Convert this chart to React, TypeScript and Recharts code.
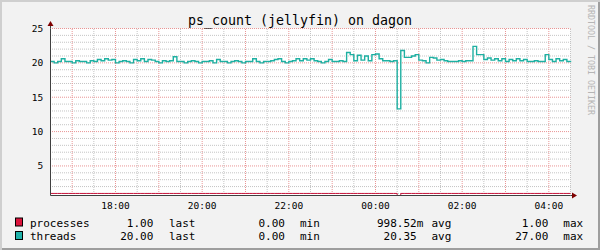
import React from "react";
import { LineChart, Line, XAxis, YAxis, CartesianGrid, ReferenceLine, ReferenceDot } from "recharts";

// 5 minute samples, first one at 16:30
const START_MIN = 16 * 60 + 30;
const STEP_MIN = 5;

const threads = [
  20.2, 20.0, 20.2, 20.6, 20.2, 20.2, 20.0, 20.3, 20.2, 20.2,
  20.0, 20.3, 20.2, 20.5, 20.3, 20.6, 20.4, 20.5, 20.0, 20.2,
  20.3, 20.2, 20.0, 20.5, 20.3, 20.6, 20.2, 20.5, 20.4, 20.2,
  20.0, 20.3, 20.2, 20.3, 20.9, 20.2, 20.2, 20.0, 20.2, 20.3,
  20.2, 20.0, 20.2, 20.2, 20.3, 20.0, 20.5, 20.2, 20.2, 20.0,
  20.2, 20.3, 20.2, 20.0, 20.2, 20.2, 20.6, 20.2, 20.0, 20.2,
  20.2, 20.3, 20.5, 20.6, 20.2, 20.0, 20.2, 20.3, 20.6, 20.3,
  20.6, 20.4, 20.6, 20.3, 20.2, 20.0, 20.2, 20.5, 20.2, 20.2,
  20.3, 20.2, 21.5, 21.2, 20.3, 21.1, 20.4, 21.0, 20.3, 21.2,
  21.3, 20.6, 20.3, 20.3, 20.2, 20.3, 13.3, 21.8, 20.8, 20.8,
  21.0, 21.2, 20.4, 20.3, 20.0, 20.8, 20.7, 20.4, 20.5, 20.3,
  20.2, 20.2, 20.2, 20.3, 20.2, 20.3, 20.3, 22.4, 21.2, 21.2,
  20.5, 20.7, 20.4, 20.6, 20.3, 20.6, 20.2, 20.5, 20.3, 20.6,
  20.3, 20.5, 20.2, 20.2, 20.3, 20.2, 20.2, 21.2, 20.5, 20.2,
  20.6, 20.3, 20.5, 20.2, 20.1,
];

const processes = [
  1, 1, 1, 1, 1, 1, 1, 1, 1, 1, 1, 1, 1, 1, 1, 1, 1, 1, 1, 1,
  1, 1, 1, 1, 1, 1, 1, 1, 1, 1, 1, 1, 1, 1, 1, 1, 1, 1, 1, 1,
  1, 1, 1, 1, 1, 1, 1, 1, 1, 1, 1, 1, 1, 1, 1, 1, 1, 1, 1, 1,
  1, 1, 1, 1, 1, 1, 1, 1, 1, 1, 1, 1, 1, 1, 1, 1, 1, 1, 1, 1,
  1, 1, 1, 1, 1, 1, 1, 1, 1, 1, 1, 1, 1, 1, 1, 1, 0, 1, 1, 1,
  1, 1, 1, 1, 1, 1, 1, 1, 1, 1, 1, 1, 1, 1, 1, 1, 1, 1, 1, 1,
  1, 1, 1, 1, 1, 1, 1, 1, 1, 1, 1, 1, 1, 1, 1, 1, 1, 1, 1, 1,
  1, 1, 1, 1, 1,
];

// minutes after 16:30
const xLabelTicks = [90, 210, 330, 450, 570, 690];
const hourLines = [30, 90, 150, 210, 270, 330, 390, 450, 510, 570, 630, 690];
const halfHourLines = [60, 120, 180, 240, 300, 360, 420, 480, 540, 600, 660, 720];
const yLabelTicks = [5, 10, 15, 20, 25];
const yMinorLines = [1, 2, 3, 4, 6, 7, 8, 9, 11, 12, 13, 14, 16, 17, 18, 19, 21, 22, 23, 24];

const legendRows = [
  { name: "processes", color: "#dc143c", last: "1.00", min: "0.00", avg: "998.52", unit: "m", max: "1.00" },
  { name: "threads", color: "#20b2aa", last: "20.00", min: "0.00", avg: "20.35", unit: "", max: "27.00" },
];

const X_MAX = 720;
const Y_MIN = 0.7;
const Y_MAX = 25;

const MONO = "'DejaVu Sans Mono', monospace";
const AXIS = "#404040";
const ARROW = "#7f0000";
const GRID = "#c4c4c4";
const MGRID = "#e99595";

const data = threads.map((v, i) => ({ t: i * STEP_MIN, threads: v, processes: processes[i] }));

function clock(m: number) {
  const total = (START_MIN + m) % 1440;
  const h = Math.floor(total / 60);
  const mm = total % 60;
  return String(h).padStart(2, "0") + ":" + String(mm).padStart(2, "0");
}

function UpArrow(p: any) {
  const { cx, cy } = p;
  return (
    <g>
      <line x1={cx} y1={cy} x2={cx} y2={cy - 3} stroke={AXIS} strokeWidth={1} />
      <path d={`M${cx - 3},${cy - 2.5} L${cx + 3},${cy - 2.5} L${cx},${cy - 7.5} Z`} fill={ARROW} />
    </g>
  );
}

function RightArrow(p: any) {
  const { cx, cy } = p;
  return (
    <g>
      <line x1={cx} y1={cy} x2={cx + 2} y2={cy} stroke={AXIS} strokeWidth={1} />
      <path d={`M${cx + 1.5},${cy - 3} L${cx + 1.5},${cy + 3} L${cx + 6.5},${cy} Z`} fill={ARROW} />
    </g>
  );
}

export default function App() {
  return (
    <div
      style={{
        position: "fixed",
        left: 0,
        top: 0,
        width: 600,
        height: 250,
        background: "#f2f2f2",
        boxShadow: "inset 2px 2px 0 #cfcfcf, inset -2px -2px 0 #9e9e9e",
      }}
    >
      <div style={{ position: "absolute", left: 0, top: 0 }}>
        <LineChart width={600} height={250} data={data} margin={{ top: 28.5, right: 29.5, bottom: 34.5, left: 10.5 }}>
          <CartesianGrid fill="#ffffff" horizontal={false} vertical={false} />
          {yMinorLines.map((v) => (
            <ReferenceLine key={"ym" + v} y={v} stroke={GRID} strokeDasharray="1 1" strokeDashoffset={0.5} />
          ))}
          {halfHourLines.map((v) => (
            <ReferenceLine key={"xm" + v} x={v} stroke={GRID} strokeDasharray="1 1" strokeDashoffset={0.5} />
          ))}
          {yLabelTicks.map((v) => (
            <ReferenceLine key={"yM" + v} y={v} stroke={MGRID} strokeDasharray="1 1" strokeDashoffset={0.5} />
          ))}
          {hourLines.map((v) => (
            <ReferenceLine key={"xM" + v} x={v} stroke={MGRID} strokeDasharray="1 1" strokeDashoffset={0.5} />
          ))}
          <XAxis
            type="number"
            dataKey="t"
            domain={[0, X_MAX]}
            ticks={xLabelTicks}
            interval={0}
            tickFormatter={clock}
            height={20}
            tickSize={2}
            tickMargin={4.8}
            tickLine={false}
            axisLine={{ stroke: AXIS }}
            tick={{ fontSize: 9.5, fontFamily: MONO, fill: "#000" }}
          />
          <YAxis
            type="number"
            domain={[Y_MIN, Y_MAX]}
            allowDataOverflow
            ticks={yLabelTicks}
            interval={0}
            width={40}
            tickSize={0}
            tickMargin={7.2}
            tickLine={false}
            axisLine={{ stroke: AXIS }}
            tick={{ fontSize: 9.5, fontFamily: MONO, fill: "#000" }}
          />
          <Line
            type="stepAfter"
            dataKey="processes"
            stroke="#c8143c"
            strokeWidth={1}
            dot={false}
            isAnimationActive={false}
          />
          <Line
            type="stepAfter"
            dataKey="threads"
            stroke="#1eb0a2"
            strokeWidth={1.4}
            dot={false}
            isAnimationActive={false}
          />
          <ReferenceDot x={0} y={Y_MAX} r={0} ifOverflow="visible" shape={UpArrow} />
          <ReferenceDot x={X_MAX} y={Y_MIN} r={0} ifOverflow="visible" shape={RightArrow} />
        </LineChart>
      </div>
      <svg width={600} height={250} style={{ position: "absolute", left: 0, top: 0, pointerEvents: "none" }}>
        <text x={300} y={24.5} textAnchor="middle" fontFamily={MONO} fontSize={13.3} fill="#000">
          ps_count (jellyfin) on dagon
        </text>
        <text
          x={590.5}
          y={60}
          transform="rotate(90 590.5 60)"
          textAnchor="middle"
          dominantBaseline="central"
          fontFamily={MONO}
          fontSize={8.3}
          fill="#b5b5b5"
        >
          RRDTOOL / TOBI OETIKER
        </text>
        {legendRows.map((r, i) => {
          const y = 226.5 + i * 13.5;
          return (
            <g key={r.name} fontFamily={MONO} fontSize={11} fill="#000">
              <rect x={15.5} y={y - 8.5} width={7} height={8} fill={r.color} stroke="#000" strokeWidth={1} />
              <text x={30} y={y}>{r.name}</text>
              <text x={153.3} y={y} textAnchor="end">{r.last}</text>
              <text x={169} y={y}>last</text>
              <text x={285} y={y} textAnchor="end">{r.min}</text>
              <text x={300} y={y}>min</text>
              <text x={416.7} y={y} textAnchor="end">{r.avg}</text>
              <text x={416.7} y={y}>{r.unit}</text>
              <text x={431.5} y={y}>avg</text>
              <text x={548.3} y={y} textAnchor="end">{r.max}</text>
              <text x={563.3} y={y}>max</text>
            </g>
          );
        })}
      </svg>
    </div>
  );
}
